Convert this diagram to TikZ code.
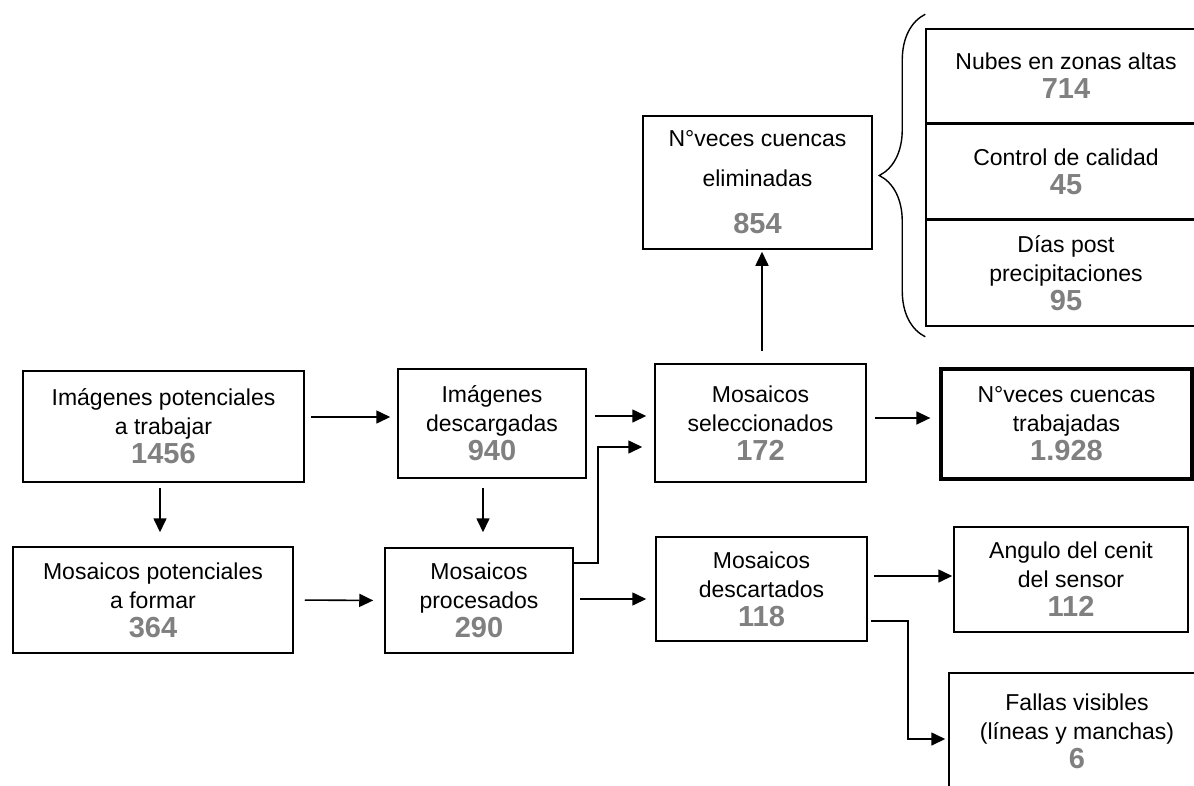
\documentclass[tikz,border=0pt]{standalone}
\usepackage{fontspec}
\setmainfont{Liberation Sans}
\usetikzlibrary{arrows.meta, positioning, decorations.pathreplacing}
\definecolor{valgray}{RGB}{128,128,128}
\newcommand{\valnum}[1]{{\fontsize{29pt}{31pt}\selectfont\bfseries\color{valgray}#1}}

\begin{document}
\begin{tikzpicture}[
  x=1pt, y=-1pt,
  font=\fontsize{23pt}{29pt}\selectfont,
  box/.style={draw, line width=1.5pt, align=center, inner sep=0pt},
  arr/.style={line width=1.6pt, -{Triangle[length=14pt,width=13pt]}},
  line width=1.6pt]

  \useasboundingbox (0,0) rectangle (1194,785);

  \node[box, minimum width=281pt, minimum height=111pt] (potTrab) at (163.5,426.5) {Imágenes potenciales\\a trabajar\\\valnum{1456}};
  \node[box, minimum width=188pt, minimum height=109pt] (desc) at (492,423.5) {Imágenes\\descargadas\\\valnum{940}};
  \node[box, minimum width=211pt, minimum height=118pt] (sel) at (760.5,423) {Mosaicos\\seleccionados\\\valnum{172}};
  \node[box, line width=3.3pt, minimum width=251pt, minimum height=110pt] (trab) at (1066.5,424) {N°veces cuencas\\trabajadas\\\valnum{1.928}};
  \node[box, minimum width=229pt, minimum height=133pt] (elim) at (757.5,182.5) {N°veces cuencas\\[11pt]eliminadas\\[18pt]\valnum{854}};

  \node[box, minimum width=280pt, minimum height=94pt] (nubes) at (1066,76) {Nubes en zonas altas\\\valnum{714}};
  \node[box, minimum width=280pt, minimum height=94pt, below=0pt of nubes] (control) {Control de calidad\\\valnum{45}};
  \node[box, minimum width=280pt, minimum height=106pt, below=0pt of control] (dias) {Días post\\precipitaciones\\\valnum{95}};

  \node[box, minimum width=280pt, minimum height=106pt] (mosPot) at (153,600) {Mosaicos potenciales\\a formar\\\valnum{364}};
  \node[box, minimum width=188pt, minimum height=105pt] (proc) at (479,600.5) {Mosaicos\\procesados\\\valnum{290}};
  \node[box, minimum width=211pt, minimum height=104pt] (descart) at (761.5,589) {Mosaicos\\descartados\\\valnum{118}};
  \node[box, minimum width=234pt, minimum height=105pt] (ang) at (1071,579.5) {Angulo del cenit\\del sensor\\\valnum{112}};
  \node[box, minimum width=256pt, minimum height=116pt] (fallas) at (1077,731) {Fallas visibles\\(líneas y manchas)\\\valnum{6}};

  \draw[line width=1.4pt, decorate, decoration={brace, amplitude=46pt}]
    ([yshift=-10pt]dias.south west) -- ([yshift=14pt]nubes.north west);

  \draw[arr, shorten <=6pt, shorten >=7pt] ([yshift=9.5pt]potTrab.east) -- ([yshift=6.5pt]desc.west);
  \draw[arr, shorten <=5pt, shorten >=14pt] ([xshift=-3.5pt]potTrab.south) -- ([xshift=7pt]mosPot.north);
  \draw[arr, shorten <=9pt, shorten >=15pt] ([xshift=-9pt]desc.south) -- ([xshift=4pt]proc.north);
  \draw[arr, shorten <=11pt, shorten >=11pt] (mosPot.east) -- (proc.west);
  \draw[arr, shorten <=8pt, shorten >=8pt] ([yshift=7.5pt]desc.east) -- ([yshift=7pt]sel.west);
  \draw[arr, shorten >=12pt] ([yshift=37.5pt]proc.east) -- ++(24pt,0) |- ([yshift=-24pt]sel.west);
  \draw[arr, shorten <=6pt, shorten >=9pt] ([yshift=1.5pt]proc.east) -- ([yshift=-10pt]descart.west);
  \draw[arr, shorten <=12pt, shorten >=2pt] ([xshift=1.5pt]sel.north) -- ([xshift=4.5pt]elim.south);
  \draw[arr, shorten <=8pt, shorten >=9pt] ([yshift=5pt]sel.east) -- ([yshift=6pt]trab.west);
  \draw[arr, shorten <=6pt, shorten >=1pt] ([yshift=13pt]descart.east) -- ([yshift=3.5pt]ang.west);
  \draw[arr, shorten <=3pt, shorten >=3pt] ([yshift=-32pt]descart.east) -- ++(40pt,0) |- ([yshift=-8pt]fallas.west);
\end{tikzpicture}
\end{document}
